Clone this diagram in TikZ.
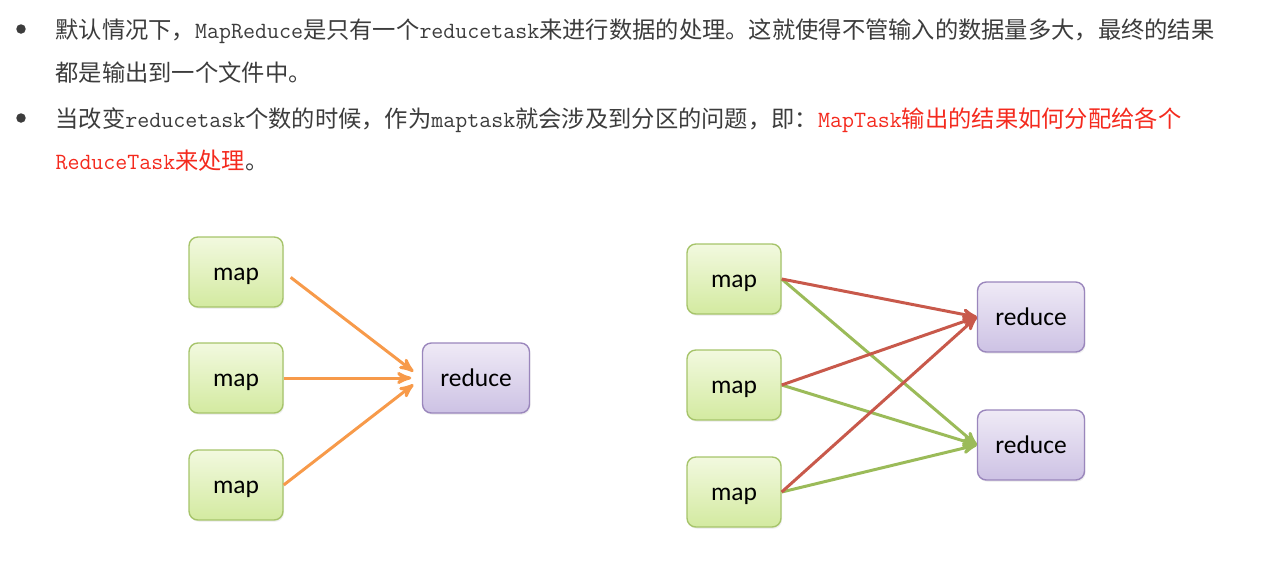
\documentclass[tikz,border=0pt]{standalone}
\usepackage{fontspec}
\setsansfont{Carlito}
\newfontfamily\cjk{Noto Sans CJK SC}
\usetikzlibrary{arrows, shadows}

\definecolor{textgray}{HTML}{3C3C3C}
\definecolor{hired}{HTML}{F42A1E}
\definecolor{maptop}{HTML}{F2F9DF}
\definecolor{mapbot}{HTML}{D3EAA0}
\definecolor{mapline}{HTML}{A6C46A}
\definecolor{redtop}{HTML}{EFEAF6}
\definecolor{redbot}{HTML}{CDC2E4}
\definecolor{redline}{HTML}{9A86BC}
\definecolor{orangeline}{HTML}{F79A4A}
\definecolor{redarrow}{HTML}{C8594B}
\definecolor{greenarrow}{HTML}{9BBB59}

\newcommand{\en}[1]{{\ttfamily #1}}

\begin{document}
\begin{tikzpicture}[x=0.02cm, y=-0.02cm, >=stealth', semithick,
		mapbox/.style={draw=mapline, line width=0.8pt, rounded corners=5pt, top color=maptop, bottom color=mapbot, minimum width=1.88cm, minimum height=1.4cm, text height=13pt, text depth=3pt, font=\sffamily\fontsize{14.5}{17}\selectfont, drop shadow={opacity=0.12, shadow xshift=0.6pt, shadow yshift=-1pt}},
		reducebox/.style={draw=redline, line width=0.8pt, rounded corners=5pt, top color=redtop, bottom color=redbot, minimum width=2.14cm, minimum height=1.4cm, text height=13pt, text depth=3pt, font=\sffamily\fontsize{14.5}{17}\selectfont, drop shadow={opacity=0.12, shadow xshift=0.6pt, shadow yshift=-1pt}},
		bullet/.style={circle, fill=textgray, inner sep=0pt, minimum size=0.19cm},
		line/.style={anchor=base west, inner sep=0pt, font=\cjk\fontsize{13.25}{16}\selectfont, text=textgray},
		flow/.style={->, line width=1.7pt}]
	\useasboundingbox (0,0) rectangle (1268,569);

	% bullets
	\node[bullet]	(b1) at (21, 29) {};
	\node[bullet]	(b2) at (21, 118) {};
	\node[line]		(t1) at (55, 38) {默认情况下，\en{MapReduce}是只有一个\en{reducetask}来进行数据的处理。这就使得不管输入的数据量多大，最终的结果};
	\node[line]		(t2) at (55, 81) {都是输出到一个文件中。};
	\node[line]		(t3) at (55, 127) {当改变\en{reducetask}个数的时候，作为\en{maptask}就会涉及到分区的问题，即：\textcolor{hired}{\en{MapTask}输出的结果如何分配给各个}};
	\node[line]		(t4) at (55, 169) {\textcolor{hired}{\en{ReduceTask}来处理}。};

	% one reduce
	\node[mapbox]		(m1) at (236, 272) {map};
	\node[mapbox]		(m2) at (236, 378) {map};
	\node[mapbox]		(m3) at (236, 485) {map};
	\node[reducebox]	(r) at (476, 378) {reduce};

	\path[flow, orangeline, shorten >=6pt]
			(m1.east) edge[shorten <=5pt] (r.west)
			(m2.east) edge (r.west)
			(m3.east) edge (r.west);

	% two reduces
	\node[mapbox]		(a1) at (734, 279) {map};
	\node[mapbox]		(a2) at (734, 385) {map};
	\node[mapbox]		(a3) at (734, 492) {map};
	\node[reducebox]	(r1) at (1031, 317) {reduce};
	\node[reducebox]	(r2) at (1031, 445) {reduce};

	\path[flow, greenarrow]
			(a1.east) edge (r2.west)
			(a2.east) edge (r2.west)
			(a3.east) edge (r2.west);
	\path[flow, redarrow]
			(a1.east) edge (r1.west)
			(a2.east) edge (r1.west)
			(a3.east) edge (r1.west);
\end{tikzpicture}
\end{document}
